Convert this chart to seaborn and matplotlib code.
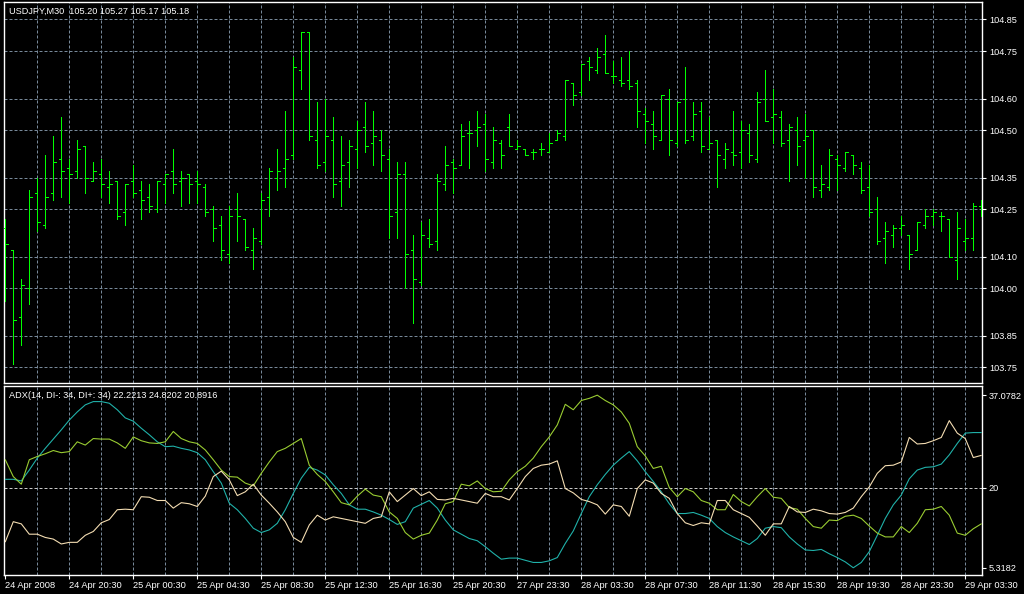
"""
    USDJPY M30 bar chart with ADX indicator panel
"""

import matplotlib
matplotlib.use("Agg")
import pandas as pd
import matplotlib.pyplot as plt
import seaborn as sns

bar_open = [104.19, 104.12, 103.91, 104.00, 104.30, 104.20, 104.30, 104.41, 104.38, 104.37,
            104.45, 104.34, 104.36, 104.32, 104.34, 104.24, 104.34, 104.31, 104.29, 104.25,
            104.33, 104.37, 104.34, 104.36, 104.34, 104.32, 104.25, 104.20, 104.11, 104.25,
            104.22, 104.12, 104.15, 104.29, 104.35, 104.38, 104.42, 104.69, 104.81, 104.47,
            104.40, 104.47, 104.34, 104.40, 104.44, 104.51, 104.46, 104.47, 104.41, 104.24,
            104.36, 104.12, 104.02, 104.16, 104.15, 104.33, 104.40, 104.39, 104.49, 104.50,
            104.52, 104.40, 104.46, 104.51, 104.44, 104.44, 104.43, 104.44, 104.43, 104.47,
            104.48, 104.65, 104.62, 104.72, 104.69, 104.74, 104.67, 104.66, 104.66, 104.65,
            104.55, 104.52, 104.47, 104.60, 104.46, 104.60, 104.48, 104.56, 104.44, 104.47,
            104.41, 104.43, 104.43, 104.49, 104.41, 104.60, 104.54, 104.54, 104.47, 104.50,
            104.47, 104.50, 104.31, 104.32, 104.41, 104.38, 104.42, 104.38, 104.32, 104.25,
            104.16, 104.17, 104.19, 104.17, 104.12, 104.20, 104.23, 104.23, 104.22, 104.09,
            104.15, 104.16, 104.26]

bar_high = [104.22, 104.12, 104.03, 104.31, 104.35, 104.42, 104.48, 104.54, 104.41, 104.47,
            104.45, 104.40, 104.41, 104.37, 104.34, 104.33, 104.39, 104.34, 104.33, 104.34,
            104.36, 104.44, 104.37, 104.36, 104.37, 104.33, 104.26, 104.23, 104.26, 104.30,
            104.22, 104.19, 104.30, 104.38, 104.44, 104.56, 104.73, 104.81, 104.81, 104.59,
            104.60, 104.54, 104.48, 104.47, 104.53, 104.59, 104.56, 104.50, 104.44, 104.40,
            104.40, 104.17, 104.21, 104.22, 104.36, 104.45, 104.41, 104.52, 104.53, 104.56,
            104.55, 104.51, 104.47, 104.55, 104.47, 104.44, 104.44, 104.46, 104.49, 104.50,
            104.66, 104.65, 104.71, 104.73, 104.76, 104.80, 104.72, 104.73, 104.75, 104.66,
            104.57, 104.56, 104.61, 104.63, 104.59, 104.70, 104.59, 104.59, 104.54, 104.47,
            104.46, 104.56, 104.53, 104.52, 104.62, 104.69, 104.63, 104.56, 104.52, 104.54,
            104.55, 104.50, 104.39, 104.44, 104.42, 104.43, 104.42, 104.40, 104.39, 104.29,
            104.21, 104.20, 104.23, 104.17, 104.21, 104.25, 104.25, 104.24, 104.22, 104.24,
            104.22, 104.27, 104.28]

bar_low = [103.96, 103.76, 103.82, 103.95, 104.18, 104.19, 104.28, 104.29, 104.27, 104.35,
           104.30, 104.34, 104.29, 104.27, 104.22, 104.20, 104.29, 104.22, 104.24, 104.24,
           104.27, 104.30, 104.26, 104.27, 104.27, 104.23, 104.15, 104.09, 104.08, 104.15,
           104.12, 104.06, 104.14, 104.23, 104.31, 104.32, 104.41, 104.63, 104.47, 104.38,
           104.37, 104.29, 104.26, 104.32, 104.38, 104.43, 104.39, 104.37, 104.16, 104.16,
           104.00, 103.89, 104.01, 104.13, 104.12, 104.31, 104.30, 104.39, 104.38, 104.45,
           104.37, 104.38, 104.38, 104.45, 104.44, 104.42, 104.41, 104.42, 104.43, 104.47,
           104.47, 104.58, 104.61, 104.66, 104.68, 104.68, 104.65, 104.64, 104.63, 104.51,
           104.46, 104.44, 104.47, 104.42, 104.45, 104.46, 104.47, 104.43, 104.44, 104.32,
           104.38, 104.39, 104.38, 104.40, 104.40, 104.53, 104.46, 104.45, 104.34, 104.39,
           104.35, 104.29, 104.29, 104.31, 104.31, 104.37, 104.36, 104.30, 104.23, 104.14,
           104.08, 104.13, 104.17, 104.06, 104.12, 104.19, 104.20, 104.18, 104.10, 104.03,
           104.12, 104.12, 104.23]

bar_close = [104.14, 103.90, 104.01, 104.29, 104.21, 104.29, 104.40, 104.37, 104.36, 104.44,
             104.35, 104.37, 104.33, 104.33, 104.23, 104.33, 104.30, 104.28, 104.26, 104.34,
             104.36, 104.33, 104.35, 104.33, 104.33, 104.24, 104.19, 104.12, 104.23, 104.23,
             104.13, 104.16, 104.28, 104.37, 104.37, 104.41, 104.70, 104.81, 104.48, 104.39,
             104.48, 104.33, 104.39, 104.45, 104.50, 104.45, 104.48, 104.42, 104.23, 104.36,
             104.11, 104.03, 104.17, 104.14, 104.34, 104.39, 104.38, 104.48, 104.49, 104.51,
             104.41, 104.47, 104.42, 104.45, 104.45, 104.42, 104.43, 104.44, 104.46, 104.49,
             104.66, 104.61, 104.71, 104.70, 104.73, 104.68, 104.67, 104.65, 104.64, 104.56,
             104.53, 104.48, 104.61, 104.47, 104.59, 104.47, 104.55, 104.45, 104.46, 104.42,
             104.44, 104.42, 104.50, 104.42, 104.59, 104.53, 104.55, 104.46, 104.51, 104.45,
             104.48, 104.32, 104.33, 104.42, 104.39, 104.43, 104.39, 104.31, 104.24, 104.15,
             104.18, 104.19, 104.20, 104.11, 104.21, 104.23, 104.24, 104.23, 104.10, 104.19,
             104.16, 104.26, 104.26]

adx_main = [21.6, 21.6, 21.3, 23.3, 25.5, 27.3, 29.0, 30.7, 32.5, 34.0,
            35.3, 35.9, 35.9, 35.6, 34.4, 32.9, 32.3, 31.0, 29.8, 28.5,
            27.6, 27.7, 27.3, 27.0, 26.5, 25.2, 23.0, 20.9, 17.2, 16.0,
            14.4, 12.6, 11.8, 12.3, 13.5, 16.0, 19.0, 21.8, 23.8, 23.3,
            22.4, 20.6, 19.0, 16.9, 16.1, 16.1, 15.6, 15.0, 14.2, 13.3,
            13.8, 16.3, 17.0, 17.7, 16.3, 14.1, 12.3, 11.5, 10.7, 10.3,
            9.2, 8.0, 6.9, 7.1, 7.1, 6.7, 6.3, 6.3, 6.6, 7.2,
            9.8, 12.1, 15.3, 18.4, 20.6, 22.5, 24.2, 25.5, 26.7, 25.0,
            23.0, 21.2, 19.3, 17.1, 15.3, 15.3, 15.5, 15.0, 14.4, 12.9,
            11.8, 11.0, 10.3, 9.6, 10.7, 12.6, 12.9, 12.7, 11.0, 9.7,
            8.6, 8.5, 8.7, 7.9, 7.2, 6.4, 5.32, 6.3, 8.3, 11.3,
            14.4, 16.9, 18.7, 21.7, 23.3, 23.8, 23.9, 24.4, 26.1, 28.2,
            30.1, 30.2, 30.2]

di_plus = [25.2, 22.1, 20.7, 25.2, 25.8, 26.3, 26.9, 26.5, 26.7, 28.5,
           27.9, 29.1, 29.0, 29.0, 28.3, 27.3, 29.4, 28.7, 28.3, 28.2,
           28.5, 30.4, 29.1, 28.5, 28.2, 27.0, 25.2, 23.3, 22.1, 22.0,
           20.9, 20.4, 22.7, 24.8, 26.7, 27.3, 28.2, 29.1, 24.2, 22.5,
           21.2, 19.3, 17.3, 16.9, 18.5, 19.8, 18.7, 18.4, 15.6, 14.4,
           11.8, 10.6, 11.3, 11.7, 14.1, 17.1, 17.5, 20.7, 20.4, 21.3,
           19.9, 19.3, 19.4, 21.5, 23.0, 24.0, 25.5, 27.6, 29.4, 31.6,
           35.4, 34.4, 36.1, 36.5, 37.08, 36.1, 35.3, 34.0, 31.9, 27.6,
           25.9, 23.6, 24.0, 20.1, 18.4, 19.9, 19.3, 17.7, 17.2, 16.0,
           16.0, 18.8, 17.5, 16.7, 18.4, 19.9, 18.3, 18.1, 16.4, 16.1,
           14.4, 12.9, 12.6, 14.1, 14.0, 14.8, 15.0, 14.4, 13.0, 11.7,
           11.0, 11.0, 12.9, 11.8, 13.5, 16.0, 16.1, 16.6, 15.0, 11.7,
           11.3, 12.5, 13.4]

di_minus = [10.1, 13.8, 13.4, 11.5, 11.5, 10.9, 10.6, 9.7, 10.0, 10.0,
            11.3, 12.0, 13.6, 14.2, 16.0, 16.1, 16.0, 18.4, 18.3, 17.7,
            17.7, 16.3, 17.3, 17.1, 16.6, 18.5, 22.1, 23.1, 21.5, 18.6,
            19.3, 20.7, 18.7, 17.2, 15.6, 13.8, 10.9, 10.0, 13.2, 15.0,
            14.1, 14.7, 14.4, 14.1, 13.8, 13.5, 14.4, 14.7, 19.3, 17.5,
            18.7, 19.9, 18.6, 19.3, 17.9, 17.8, 18.1, 17.8, 17.5, 17.2,
            19.0, 18.4, 18.4, 17.8, 19.9, 22.1, 23.6, 24.2, 24.4, 25.0,
            19.9, 19.1, 17.9, 17.5, 16.9, 15.2, 16.9, 16.6, 14.8, 19.9,
            21.5, 20.9, 19.0, 18.1, 15.3, 13.6, 13.1, 13.6, 13.4, 17.7,
            17.7, 16.0, 15.3, 14.6, 13.0, 11.3, 13.4, 13.4, 16.6, 15.6,
            15.5, 16.1, 15.8, 15.3, 15.2, 15.5, 16.3, 18.4, 20.2, 22.7,
            24.1, 24.2, 24.8, 29.3, 28.1, 28.2, 28.7, 29.3, 32.4, 30.1,
            29.1, 25.6, 26.0]

price_ticks = [103.75, 103.85, 104.00, 104.10, 104.25, 104.35, 104.50, 104.60, 104.75, 104.85]
adx_ticks = [5.3182, 20, 37.0782]
adx_tick_labels = ["5.3182", "20", "37.0782"]
time_labels = ["24 Apr 2008", "24 Apr 20:30", "25 Apr 00:30", "25 Apr 04:30",
               "25 Apr 08:30", "25 Apr 12:30", "25 Apr 16:30", "25 Apr 20:30",
               "27 Apr 23:30", "28 Apr 03:30", "28 Apr 07:30", "28 Apr 11:30",
               "28 Apr 15:30", "28 Apr 19:30", "28 Apr 23:30", "29 Apr 03:30"]

symbol_title = "USDJPY,M30  105.20 105.27 105.17 105.18"
adx_title = "ADX(14, DI-: 34, DI+: 34) 22.2213 24.8202 20.8916"

BG = "black"
FG = "white"
GRID = "#778899"
BAR_GREEN = "#00ff00"
W, H = 1024, 594
PX = 0.72  # one pixel in points at 100 dpi

df = pd.DataFrame({"open": bar_open, "high": bar_high, "low": bar_low, "close": bar_close,
                   "adx": adx_main, "plus": di_plus, "minus": di_minus})
df["bar"] = range(len(df))

sns.set_theme(style="dark")
plt.rcParams["font.family"] = ["Liberation Sans", "DejaVu Sans"]
plt.rcParams["lines.scale_dashes"] = True

fig = plt.figure(figsize=(W / 100, H / 100), dpi=100, facecolor=BG)
ax1 = fig.add_axes([4 / W, 1 - 383.3 / H, 978 / W, 381.3 / H])
ax2 = fig.add_axes([4 / W, 1 - 575 / H, 978 / W, 189 / H])

# bar index -> pixel: x = 5.3 + 8 * i
xlim = (-0.16, 122.09)
grid_bars = list(range(4, 121, 4))
label_bars = list(range(0, 121, 8))

for ax in (ax1, ax2):
    ax.set_facecolor(BG)
    ax.set_xlim(*xlim)
    for s in ax.spines.values():
        s.set_color(FG)
        s.set_linewidth(1.0)
    ax.grid(False)
    for gx in grid_bars:
        ax.axvline(gx, color=GRID, lw=PX, ls=(0, (3, 2)), zorder=0)
    ax.yaxis.tick_right()
    ax.tick_params(axis="y", colors=FG, labelsize=6.6, length=3, width=0.8,
                   direction="out", pad=2, left=False, right=True)

# --- price panel: OHLC bars
ax1.set_ylim(103.700, 104.905)
for p in price_ticks:
    ax1.axhline(p, color=GRID, lw=PX, ls=(0, (3, 2)), zorder=0)
ax1.vlines(df["bar"], df["low"], df["high"], color=BAR_GREEN, lw=PX,
           antialiased=False, zorder=3)
ax1.hlines(df["open"], df["bar"] - 0.32, df["bar"], color=BAR_GREEN, lw=PX,
           antialiased=False, zorder=3)
ax1.hlines(df["close"], df["bar"], df["bar"] + 0.32, color=BAR_GREEN, lw=PX,
           antialiased=False, zorder=3)
ax1.set_yticks(price_ticks)
ax1.set_yticklabels([f"{p:.2f}" for p in price_ticks])
ax1.set_xticks([])
ax1.set_xlabel("")
ax1.set_ylabel("")

# --- ADX panel
ax2.set_ylim(3.99, 38.77)
ax2.axhline(20, color="#c8c8c8", lw=PX, ls=(0, (3, 2)), zorder=0)
sns.lineplot(data=df, x="bar", y="adx", ax=ax2, color="#20b2aa", lw=PX * 1.1, zorder=3)
sns.lineplot(data=df, x="bar", y="plus", ax=ax2, color="#9acd32", lw=PX * 1.1, zorder=3)
sns.lineplot(data=df, x="bar", y="minus", ax=ax2, color="#f5deb3", lw=PX * 1.1, zorder=3)
ax2.set_xlim(*xlim)
ax2.set_yticks(adx_ticks)
ax2.set_yticklabels(adx_tick_labels)
ax2.set_xticks(label_bars)
ax2.set_xticklabels(time_labels)
ax2.tick_params(axis="x", colors=FG, labelsize=6.7, length=3, width=0.8,
                direction="out", pad=1.5, bottom=True)
for lab in ax2.get_xticklabels():
    lab.set_horizontalalignment("left")
ax2.set_xlabel("")
ax2.set_ylabel("")

fig.text(9 / W, 1 - 11 / H, symbol_title, color=FG, fontsize=6.6, va="center", ha="left")
fig.text(9 / W, 1 - 396 / H, adx_title, color=FG, fontsize=6.6, va="center", ha="left")

fig.savefig("out.png", dpi=100, facecolor=BG)
